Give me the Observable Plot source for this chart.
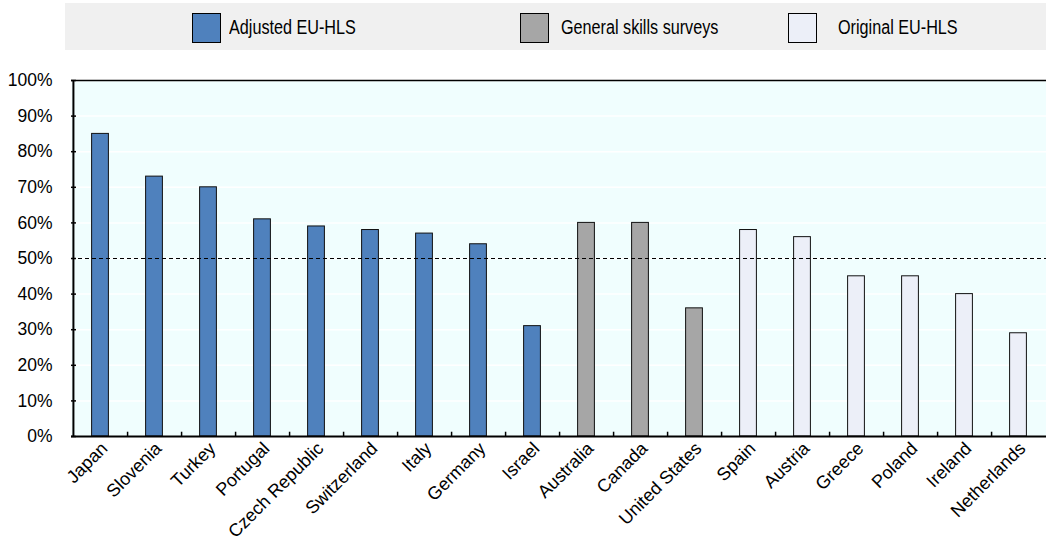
<!DOCTYPE html>
<html>
<head>
<meta charset="utf-8">
<script src="https://cdn.jsdelivr.net/npm/d3@7"></script>
<script src="https://cdn.jsdelivr.net/npm/@observablehq/plot@0.6"></script>
<style>
  body { margin: 0; background: #fff; font-family: "Liberation Sans", Arial, sans-serif; }
  #legend { position: relative; height: 52px; }
  #legend .band { position: absolute; left: 65px; right: 0; top: 3px; height: 47px; background: #f0f0f0; }
  #legend .sw { position: absolute; top: 13px; width: 29px; height: 30px; border: 1.5px solid #000; box-sizing: border-box; }
  #legend .lbl { position: absolute; top: 16px; font-size: 19.5px; line-height: 22px; color: #000; transform: scaleX(0.83); transform-origin: left center; white-space: nowrap; }
  #chart svg { display: block; }
</style>
</head>
<body>
<div id="legend"><div class="band"></div></div>
<div id="chart"></div>
<script>
const countries = ["Japan","Slovenia","Turkey","Portugal","Czech Republic","Switzerland","Italy","Germany","Israel","Australia","Canada","United States","Spain","Austria","Greece","Poland","Ireland","Netherlands"];
const values = [85,73,70,61,59,58,57,54,31,60,60,36,58,56,45,45,40,29];
const groups = ["Adjusted EU-HLS","Adjusted EU-HLS","Adjusted EU-HLS","Adjusted EU-HLS","Adjusted EU-HLS","Adjusted EU-HLS","Adjusted EU-HLS","Adjusted EU-HLS","Adjusted EU-HLS","General skills surveys","General skills surveys","General skills surveys","Original EU-HLS","Original EU-HLS","Original EU-HLS","Original EU-HLS","Original EU-HLS","Original EU-HLS"];
const groupNames = ["Adjusted EU-HLS","General skills surveys","Original EU-HLS"];
const groupColors = ["#4f81bd","#a6a6a6","#eceff8"];
const yTicks = [0,10,20,30,40,50,60,70,80,90,100];
const referenceLevel = 50;

const data = countries.map((c, i) => ({country: c, value: values[i], group: groups[i]}));

// legend
const legend = document.getElementById("legend");
const swatchX = [192, 520, 788];
const labelX = [229, 561, 838];
groupNames.forEach((g, i) => {
  const sw = document.createElement("div");
  sw.className = "sw";
  sw.style.left = swatchX[i] + "px";
  sw.style.background = groupColors[i];
  legend.appendChild(sw);
  const lb = document.createElement("div");
  lb.className = "lbl";
  lb.style.left = labelX[i] + "px";
  lb.textContent = g;
  legend.appendChild(lb);
});

const font = '"Liberation Sans", Arial, sans-serif';
const step = (1046 - 71) / countries.length;

const plot = Plot.plot({
  width: 1046,
  height: 490,
  marginLeft: 71,
  marginRight: 0,
  marginTop: 28,
  marginBottom: 106,
  style: {fontFamily: font, fontSize: "17px", color: "#000", background: "#fff"},
  x: {domain: countries, padding: 0, label: null},
  y: {domain: [0, 100], label: null},
  color: {domain: groupNames, range: groupColors},
  marks: [
    Plot.frame({fill: "#f0fefe", stroke: null}),
    Plot.gridY(yTicks, {stroke: "#fff", strokeOpacity: 1, strokeWidth: 1.5}),
    Plot.barY(data, {x: "country", y: "value", fill: "group", stroke: "#111", strokeWidth: 1, insetLeft: 18.6, insetRight: 18.6}),
    Plot.ruleY([referenceLevel], {stroke: "#000", strokeWidth: 1, strokeDasharray: "4,3"}),
    Plot.ruleY([0], {stroke: "#000", strokeWidth: 2}),
    Plot.ruleY([100], {stroke: "#000", strokeWidth: 1.5}),
    Plot.ruleX(countries.slice(0, -1), {x: d => d, dx: step / 2, y1: 0, y2: 1.2, stroke: "#000", strokeWidth: 1.5}),
    Plot.axisY(yTicks, {anchor: "left", tickSize: 5, dx: 5, tickFormat: () => "", stroke: "#000", strokeWidth: 1.5}),
    Plot.axisY(yTicks, {anchor: "left", tickSize: 0, tickPadding: 19, tickFormat: d => d + "%", fontSize: 17.5}),
    Plot.axisX({anchor: "bottom", tickSize: 0, tickRotate: -45, tickPadding: 9, fontSize: 18, dx: 4}),
    Plot.ruleX([countries[0]], {x: d => d, dx: -step / 2, stroke: "#000", strokeWidth: 2})
  ]
});
document.getElementById("chart").appendChild(plot);
</script>
</body>
</html>
